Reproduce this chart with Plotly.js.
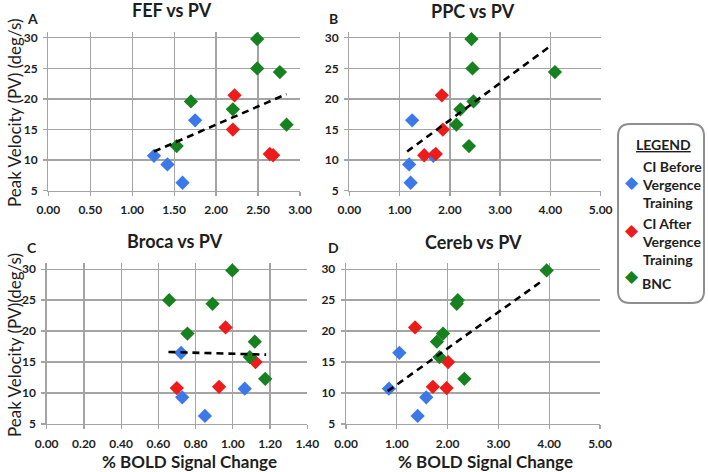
<!DOCTYPE html>
<html>
<head>
<meta charset="utf-8">
<script src="https://cdn.plot.ly/plotly-3.0.1.min.js"></script>
<style>html,body{margin:0;padding:0;background:#fff;}#chart{width:708px;height:472px;}</style>
</head>
<body>
<div id="chart"></div>
<script>
// Peak velocity (deg/s) per group
const pvBlue  = [10.7, 9.3, 6.3, 16.5];
const pvRed   = [20.6, 15.0, 11.0, 10.8];
const pvGreen = [29.8, 25.0, 24.4, 19.6, 18.3, 15.8, 12.3];

// % BOLD signal change per region
const fefBlue  = [1.26, 1.42, 1.60, 1.75];
const fefRed   = [2.22, 2.20, 2.64, 2.68];
const fefGreen = [2.49, 2.49, 2.76, 1.70, 2.20, 2.84, 1.53];

const ppcBlue  = [1.67, 1.19, 1.22, 1.25];
const ppcRed   = [1.84, 1.86, 1.72, 1.49];
const ppcGreen = [2.43, 2.45, 4.09, 2.47, 2.21, 2.13, 2.38];

const brocaBlue  = [1.064, 0.728, 0.85, 0.722];
const brocaRed   = [0.961, 1.122, 0.926, 0.699];
const brocaGreen = [0.997, 0.658, 0.891, 0.756, 1.118, 1.091, 1.174];

const cerebBlue  = [0.845, 1.58, 1.41, 1.05];
const cerebRed   = [1.36, 2.01, 1.71, 1.98];
const cerebGreen = [3.95, 2.20, 2.18, 1.91, 1.79, 1.84, 2.33];

// Trend lines (end points)
const fefTrendX = [1.26, 2.84],  fefTrendY = [11.4, 20.8];
const ppcTrendX = [1.15, 3.99],  ppcTrendY = [11.4, 28.6];
const brocaTrendX = [0.654, 1.179], brocaTrendY = [16.63, 16.2];
const cerebTrendX = [0.82, 3.86], cerebTrendY = [10.3, 28.1];

const panelTitles = ["FEF vs PV", "PPC vs PV", "Broca vs PV", "Cereb vs PV"];
const panelLetters = ["A", "B", "C", "D"];
const groupNames = ["CI Before<br>Vergence<br>Training", "CI After<br>Vergence<br>Training", "BNC"];
const yTitleTop = "Peak Velocity (PV) (deg/s)";
const yTitleBottom = "Peak Velocity (PV)(deg/s)";
const xTitle = "% BOLD Signal Change";

const colBlue = "#3b79e8", colRed = "#ee1b1b", colGreen = "#17801f";
const colors = [colBlue, colRed, colGreen];

const W = 708, H = 472;
const px = v => v / W;
const py = v => 1 - v / H;

const FONT = "Lato, 'Open Sans', sans-serif";
const gridCol = "#a4a4a4";

const panels = [
  {xs: [fefBlue, fefRed, fefGreen], tx: fefTrendX, ty: fefTrendY, range: [0, 3], dtick: 0.5, dom: [48.3, 300], ydom: [31.7, 190.7]},
  {xs: [ppcBlue, ppcRed, ppcGreen], tx: ppcTrendX, ty: ppcTrendY, range: [0, 5], dtick: 1, dom: [349.3, 600.7], ydom: [31.7, 190.7]},
  {xs: [brocaBlue, brocaRed, brocaGreen], tx: brocaTrendX, ty: brocaTrendY, range: [0, 1.4], dtick: 0.2, dom: [46.7, 307.3], ydom: [263, 424]},
  {xs: [cerebBlue, cerebRed, cerebGreen], tx: cerebTrendX, ty: cerebTrendY, range: [0, 5], dtick: 1, dom: [346, 600], ydom: [263, 424]}
];
const pvs = [pvBlue, pvRed, pvGreen];

const data = [];
const layout = {
  width: W, height: H,
  margin: {l: 0, r: 0, t: 0, b: 0},
  paper_bgcolor: "#fff", plot_bgcolor: "#fff",
  showlegend: false,
  font: {family: FONT, color: "#1e1e1e"},
  annotations: [], shapes: []
};

panels.forEach((p, i) => {
  const n = i + 1;
  const xa = "x" + (n === 1 ? "" : n), ya = "y" + (n === 1 ? "" : n);
  pvs.forEach((pv, g) => {
    data.push({
      type: "scatter", mode: "markers", x: p.xs[g], y: pv, xaxis: xa, yaxis: ya,
      marker: {symbol: "diamond", size: 11, color: colors[g], line: {width: 0}},
      hoverinfo: "x+y"
    });
  });
  data.push({
    type: "scatter", mode: "lines", x: p.tx, y: p.ty, xaxis: xa, yaxis: ya,
    line: {color: "#000", width: 2.6, dash: "7px,5px"}, hoverinfo: "skip"
  });
  const axCommon = {
    showgrid: true, gridcolor: gridCol, gridwidth: 1.3,
    showline: true, linecolor: gridCol, linewidth: 1.3,
    ticks: "outside", ticklen: 4, tickcolor: gridCol, tickwidth: 1.3,
    zeroline: false, fixedrange: true,
    tickfont: {family: FONT, size: 12, color: "#1e1e1e", weight: "bold"}
  };
  layout["xaxis" + (n === 1 ? "" : n)] = Object.assign({}, axCommon, {
    domain: [px(p.dom[0]), px(p.dom[1])], range: p.range, tick0: 0, dtick: p.dtick,
    tickformat: ".2f", anchor: ya, ticklabelstandoff: 4
  });
  layout["yaxis" + (n === 1 ? "" : n)] = Object.assign({}, axCommon, {
    domain: [py(p.ydom[1]), py(p.ydom[0])], range: [5, 31], tick0: 5, dtick: 5,
    anchor: xa, ticklabelstandoff: 3
  });
});

const ann = layout.annotations;
const titlePos = [[172, 10], [473, 11], [175, 241], [473, 242]];
const letterPos = [[32, 18], [333, 18], [32, 247], [333, 247]];
panelTitles.forEach((t, i) => {
  ann.push({xref: "paper", yref: "paper", x: px(titlePos[i][0]), y: py(titlePos[i][1]), text: "<b>" + t + "</b>",
    showarrow: false, xanchor: "center", yanchor: "middle", font: {family: FONT, size: 18, color: "#1e1e1e"}});
  ann.push({xref: "paper", yref: "paper", x: px(letterPos[i][0]), y: py(letterPos[i][1]), text: "<b>" + panelLetters[i] + "</b>",
    showarrow: false, xanchor: "center", yanchor: "middle", font: {family: FONT, size: 14, color: "#1e1e1e"}});
});
ann.push({xref: "paper", yref: "paper", x: px(14), y: py(113), text: yTitleTop, textangle: -90,
  showarrow: false, xanchor: "center", yanchor: "middle", font: {family: FONT, size: 17, color: "#1e1e1e"}});
ann.push({xref: "paper", yref: "paper", x: px(14), y: py(345), text: yTitleBottom, textangle: -90,
  showarrow: false, xanchor: "center", yanchor: "middle", font: {family: FONT, size: 17, color: "#1e1e1e"}});
ann.push({xref: "paper", yref: "paper", x: px(189), y: py(461), text: "<b>" + xTitle + "</b>",
  showarrow: false, xanchor: "center", yanchor: "middle", font: {family: FONT, size: 17, color: "#1e1e1e"}});
ann.push({xref: "paper", yref: "paper", x: px(485), y: py(461), text: "<b>" + xTitle + "</b>",
  showarrow: false, xanchor: "center", yanchor: "middle", font: {family: FONT, size: 17, color: "#1e1e1e"}});

// Legend box
const x0 = px(618), x1 = px(704), yt = py(124), yb = py(303), rx = 12 / W, ry = 12 / H;
layout.shapes.push({
  type: "path", xref: "paper", yref: "paper",
  path: `M ${x0 + rx},${yt} L ${x1 - rx},${yt} Q ${x1},${yt} ${x1},${yt - ry} L ${x1},${yb + ry} Q ${x1},${yb} ${x1 - rx},${yb} L ${x0 + rx},${yb} Q ${x0},${yb} ${x0},${yb + ry} L ${x0},${yt - ry} Q ${x0},${yt} ${x0 + rx},${yt} Z`,
  line: {color: "#8e8e8e", width: 2}, fillcolor: "#fff", layer: "below"
});
ann.push({xref: "paper", yref: "paper", x: px(663), y: py(144), text: "<b><u>LEGEND</u></b>",
  showarrow: false, xanchor: "center", yanchor: "middle", font: {family: FONT, size: 14, color: "#1e1e1e"}});
const legY = [185, 241, 283];
groupNames.forEach((g, i) => {
  ann.push({xref: "paper", yref: "paper", x: px(640), y: py(legY[i]), text: "<b>" + g + "</b>", align: "left",
    showarrow: false, xanchor: "left", yanchor: "middle", font: {family: FONT, size: 14, color: "#1e1e1e"}});
});
const symY = [182, 230, 276];
colors.forEach((c, i) => {
  ann.push({xref: "paper", yref: "paper", x: px(632), y: py(symY[i]), text: "\u25C6",
    showarrow: false, xanchor: "center", yanchor: "middle", font: {family: "DejaVu Sans", size: 17, color: c}});
});

Plotly.newPlot("chart", data, layout, {staticPlot: true, displayModeBar: false});
</script>
</body>
</html>
